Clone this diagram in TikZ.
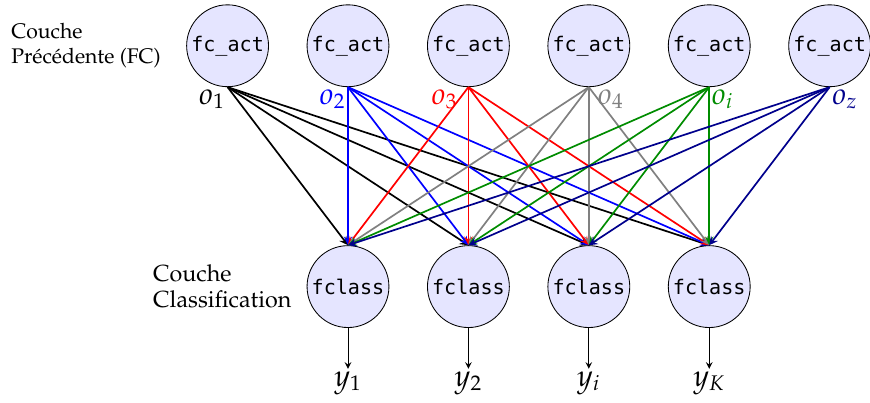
\documentclass[tikz,border=0pt]{standalone}
\usepackage{fontspec}
\newfontfamily\codefont{DejaVu Sans Mono}[Scale=0.95]
\usepackage[T1]{fontenc}
\usepackage{mathpazo}
\usepackage{xcolor}
\usetikzlibrary{arrows,positioning}

\begin{document}
\begin{tikzpicture}[
    neuron/.style={circle, draw, fill=blue!10, minimum size=1.36cm, inner sep=0pt, font=\codefont},
    conn/.style={->, >=stealth, thick},
    outlbl/.style={inner sep=1pt, font=\Large}
]
    \useasboundingbox (-5.78,-1.93) rectangle (8.67,4.76);

    % Previous layer
    \node[neuron] (a1) at (-2,4) {fc\_act};
    \node[neuron] (a2) at (0,4) {fc\_act};
    \node[neuron] (a3) at (2,4) {fc\_act};
    \node[neuron] (a4) at (4,4) {fc\_act};
    \node[neuron] (a5) at (6,4) {fc\_act};
    \node[neuron] (a6) at (8,4) {fc\_act};

    \node[left=0.3cm of a1, align=left] (prevlbl) {Couche\\Pr\'ec\'edente (FC)};

    % Classification layer
    \node[neuron] (c1) at (0,0) {fclass};
    \node[neuron] (c2) at (2,0) {fclass};
    \node[neuron] (c3) at (4,0) {fclass};
    \node[neuron] (c4) at (6,0) {fclass};

    \node[left=0.13cm of c1, align=left, font=\fontsize{11}{12.5}\selectfont] (classlbl) {Couche\\Classification};

    % Outputs
    \node[outlbl] (y1) at (0,-1.6) {$y_1$};
    \node[outlbl] (y2) at (2,-1.6) {$y_2$};
    \node[outlbl] (y3) at (4,-1.6) {$y_i$};
    \node[outlbl] (y4) at (6,-1.6) {$y_K$};

    % Connections
    \foreach \src/\col in {a1/black, a2/blue, a3/red, a4/gray, a5/green!55!black, a6/blue!55!black}
        \foreach \dst in {c1,c2,c3,c4}
            \draw[conn, \col] (\src.south) -- (\dst.north);

    \foreach \i in {1,...,4}
        \draw[->, >=stealth] (c\i) -- (y\i);

    % Output labels of previous layer
    \node[outlbl, anchor=north east] (o1) at (a1.south) {$o_1$};
    \node[outlbl, anchor=north east, blue] (o2) at (a2.south) {$o_2$};
    \node[outlbl, anchor=north east, red, xshift=-4pt] (o3) at (a3.south) {$o_3$};
    \node[outlbl, anchor=north west, gray, xshift=3pt] (o4) at (a4.south) {$o_4$};
    \node[outlbl, anchor=north west, green!55!black] (oi) at (a5.south) {$o_i$};
    \node[outlbl, anchor=north west, blue!55!black] (oz) at (a6.south) {$o_z$};
\end{tikzpicture}
\end{document}
